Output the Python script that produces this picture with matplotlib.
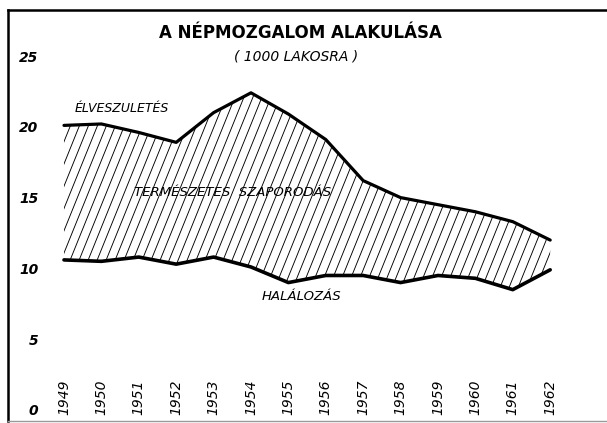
import numpy as np
import matplotlib
matplotlib.use("Agg")
import matplotlib.pyplot as plt
from matplotlib.collections import LineCollection
from matplotlib.patches import PathPatch

# ---- data (per 1000 inhabitants) ----
years = [1949, 1950, 1951, 1952, 1953, 1954, 1955, 1956, 1957, 1958, 1959, 1960, 1961, 1962]
births = [20.1, 20.2, 19.6, 18.9, 21.0, 22.4, 20.9, 19.1, 16.2, 15.0, 14.5, 14.0, 13.3, 12.0]
deaths = [10.6, 10.5, 10.8, 10.3, 10.8, 10.1, 9.0, 9.5, 9.5, 9.0, 9.5, 9.3, 8.5, 9.9]
year_labels = [str(y) for y in years]
y_ticks = [0, 5, 10, 15, 20, 25]
y_tick_labels = ["0", "5", "10", "15", "20", "25"]

title = "A NÉPMOZGALOM ALAKULÁSA"
subtitle = "( 1000 LAKOSRA )"
label_birth = "ÉLVESZULETÉS"
label_natural = "TERMÉSZETES  SZAPORODÁS"
label_death = "HALÁLOZÁS"

W, H = 607, 423
fig = plt.figure(figsize=(W / 100, H / 100), dpi=100)
# axes frame: left px 8, top px 10, bottom px 421, right edge of figure
ax = fig.add_axes([8 / W, (H - 421) / H, (W - 8) / W, (421 - 10) / H])
ax.set_xlim(1947.503, 1963.519)
ax.set_ylim(-0.777, 28.249)

ax.spines["right"].set_visible(False)
ax.spines["left"].set_linewidth(1.8)
ax.spines["top"].set_linewidth(1.8)
ax.spines["bottom"].set_linewidth(1.0)
ax.spines["bottom"].set_color("#999999")

# hatched area between the curves
poly = ax.fill_between(years, deaths, births, facecolor="none", edgecolor="none")
clip_patch = PathPatch(poly.get_paths()[0], transform=ax.transData,
                       facecolor="none", edgecolor="none")
ax.add_patch(clip_patch)

# custom steep hatching (~68 deg in pixel space)
px_per_year = 37.4
px_per_unit = 14.16
angle = np.deg2rad(68)
dx_per_unit = (px_per_unit / np.tan(angle)) / px_per_year  # years per 1 y-unit
spacing = 9.0 / px_per_year
y_lo, y_hi = 0.0, 25.0
starts = np.arange(1949 - (y_hi - y_lo) * dx_per_unit - 1, 1963.5, spacing)
segs = [[(x0, y_lo), (x0 + (y_hi - y_lo) * dx_per_unit, y_hi)] for x0 in starts]
lc = LineCollection(segs, colors="black", linewidths=0.65)
ax.add_collection(lc)
lc.set_clip_path(clip_patch)

# series lines
ax.plot(years, births, color="black", lw=2.3, solid_joinstyle="round", solid_capstyle="round")
ax.plot(years, deaths, color="black", lw=2.6, solid_joinstyle="round", solid_capstyle="round")

# ticks
ax.set_yticks(y_ticks)
ax.set_yticklabels(y_tick_labels, fontsize=10, style="italic", fontweight="bold")
ax.tick_params(axis="y", length=0, pad=-22)
for lab in ax.get_yticklabels():
    lab.set_horizontalalignment("right")

ax.set_xticks(years)
ax.set_xticklabels(year_labels, rotation=90, fontsize=10, style="italic")
ax.tick_params(axis="x", length=0, pad=-4)
for lab in ax.get_xticklabels():
    lab.set_verticalalignment("bottom")

# texts
def px(xp, yp):
    return (xp - 8) / (W - 8), (421 - yp) / (421 - 10)

ax.text(*px(300, 33), title, transform=ax.transAxes, ha="center", va="center",
        fontsize=12, fontweight="bold")
ax.text(*px(296, 57), subtitle, transform=ax.transAxes, ha="center", va="center",
        fontsize=10, style="italic")
ax.text(*px(122, 108), label_birth, transform=ax.transAxes, ha="center", va="center",
        fontsize=9, style="italic")
ax.text(*px(233, 192), label_natural, transform=ax.transAxes, ha="center", va="center",
        fontsize=9.5, style="italic")
ax.text(*px(301, 297), label_death, transform=ax.transAxes, ha="center", va="center",
        fontsize=9.5, style="italic")

fig.savefig("out.png", dpi=100)
